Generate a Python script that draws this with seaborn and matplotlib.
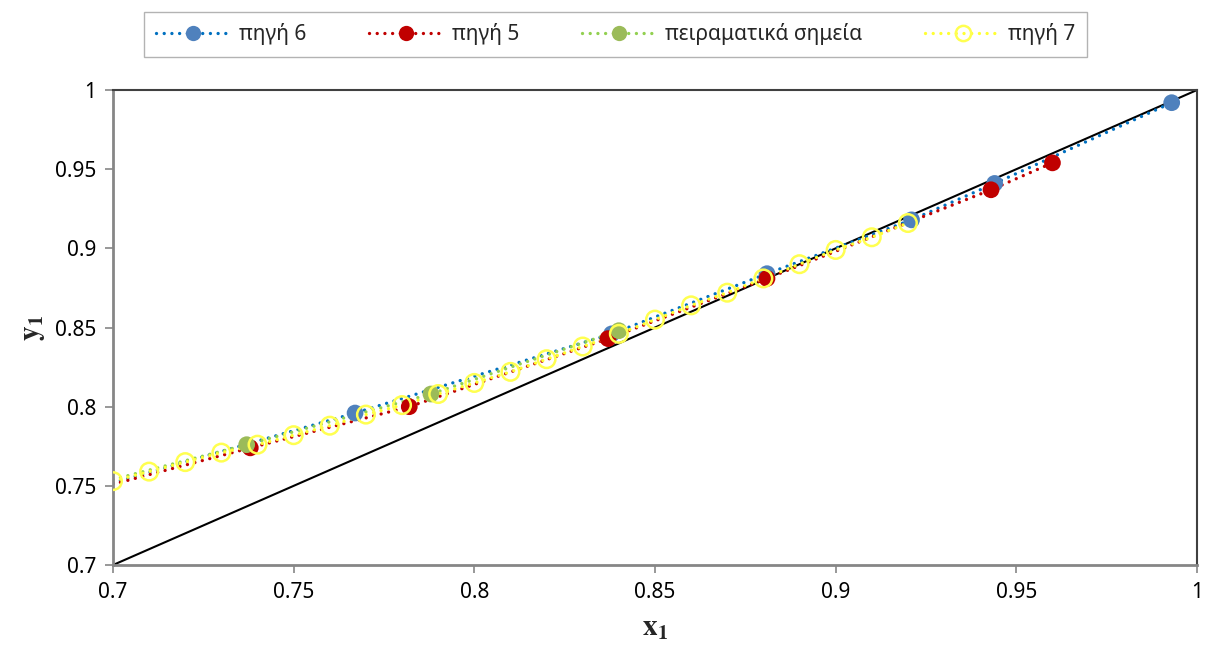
#!/usr/bin/env python3
# x1-y1 equilibrium comparison: three sources vs experimental points
import numpy as np
import pandas as pd
import seaborn as sns
import matplotlib.pyplot as plt
from matplotlib.lines import Line2D
from matplotlib.ticker import FormatStrFormatter

# data
src6_x = [0.767, 0.838, 0.881, 0.921, 0.944, 0.993]
src6_y = [0.796, 0.846, 0.884, 0.918, 0.941, 0.992]
src5_x = [0.738, 0.782, 0.837, 0.881, 0.943, 0.960]
src5_y = [0.774, 0.800, 0.843, 0.881, 0.937, 0.954]
exp_x = [0.737, 0.788, 0.840]
exp_y = [0.776, 0.808, 0.848]
src7_x = [0.70, 0.71, 0.72, 0.73, 0.74, 0.75, 0.76, 0.77, 0.78, 0.79, 0.80, 0.81,
          0.82, 0.83, 0.84, 0.85, 0.86, 0.87, 0.88, 0.89, 0.90, 0.91, 0.92]
src7_y = [0.753, 0.759, 0.765, 0.771, 0.776, 0.782, 0.788, 0.795, 0.801, 0.808, 0.815, 0.822,
          0.830, 0.838, 0.846, 0.855, 0.864, 0.872, 0.881, 0.890, 0.899, 0.907, 0.916]
# where the dotted lines start at the left edge (no marker there)
line_start_x = 0.70
src6_start_y = 0.752
src5_start_y = 0.751
exp_start_y = 0.754
diag = [0.7, 1.0]

labels = ['πηγή 6', 'πηγή 5', 'πειραματικά σημεία', 'πηγή 7']

sns.set_theme(style='white')
plt.rcParams['font.family'] = ['Noto Sans', 'DejaVu Sans']
plt.rcParams['mathtext.fontset'] = 'stix'

fig = plt.figure(figsize=(12.07, 6.61), dpi=100)
ax = fig.add_axes([0.0936, 0.1452, 0.8981, 0.7186])

dot = (0, (0.01, 2.3))
lw = 2.4

# y = x line
sns.lineplot(x=diag, y=diag, color='black', lw=1.5, ax=ax)

series = [
    ([line_start_x] + src6_x, [src6_start_y] + src6_y, src6_x, src6_y, '#0070C0', '#4F81BD'),
    ([line_start_x] + src5_x, [src5_start_y] + src5_y, src5_x, src5_y, '#C00000', '#C00000'),
    ([line_start_x] + exp_x, [exp_start_y] + exp_y, exp_x, exp_y, '#92D050', '#9BBB59'),
]
for lx, ly, mx, my, lc, mc in series:
    sns.lineplot(x=lx, y=ly, sort=False, estimator=None, color=lc, lw=lw,
                 linestyle=dot, dash_capstyle='round', ax=ax)
    sns.scatterplot(x=mx, y=my, color=mc, s=145, edgecolor='none', ax=ax, zorder=4)

sns.lineplot(x=src7_x, y=src7_y, sort=False, estimator=None, color='#FFFF33', lw=lw,
             linestyle=dot, dash_capstyle='round', ax=ax)
sns.scatterplot(x=src7_x, y=src7_y, facecolor='none', edgecolor='#FFFF50', linewidth=1.8,
                s=160, ax=ax, zorder=5)

ax.set_xlim(0.7, 1.0)
ax.set_ylim(0.7, 1.0)
ax.set_xticks(np.arange(0.7, 1.001, 0.05))
ax.set_yticks(np.arange(0.7, 1.001, 0.05))
ax.xaxis.set_major_formatter(FormatStrFormatter('%g'))
ax.yaxis.set_major_formatter(FormatStrFormatter('%g'))
ax.tick_params(axis='both', labelsize=15, labelcolor='black', direction='out', length=6,
               width=1.2, color='#868686', pad=6, bottom=True, left=True)
for side in ['left', 'bottom']:
    ax.spines[side].set_color('#868686')
    ax.spines[side].set_linewidth(2)
for side in ['top', 'right']:
    ax.spines[side].set_color('#404040')
    ax.spines[side].set_linewidth(1.5)

ax.set_xlabel(r'$\mathbf{x_1}$', fontsize=21, labelpad=8)
ax.set_ylabel(r'$\mathbf{y_1}$', fontsize=21, labelpad=6)

handles = [
    Line2D([], [], color='#0070C0', lw=lw, linestyle=dot, dash_capstyle='round',
           marker='o', markersize=11, markerfacecolor='#4F81BD', markeredgecolor='none'),
    Line2D([], [], color='#C00000', lw=lw, linestyle=dot, dash_capstyle='round',
           marker='o', markersize=11, markerfacecolor='#C00000', markeredgecolor='none'),
    Line2D([], [], color='#92D050', lw=lw, linestyle=dot, dash_capstyle='round',
           marker='o', markersize=11, markerfacecolor='#9BBB59', markeredgecolor='none'),
    Line2D([], [], color='#FFFF33', lw=lw, linestyle=dot, dash_capstyle='round',
           marker='o', markersize=11, markerfacecolor='none', markeredgecolor='#FFFF50',
           markeredgewidth=1.8),
]
fig.legend(handles, labels, loc='center', bbox_to_anchor=(0.51, 0.948), ncol=4,
           fontsize=15, frameon=True, fancybox=False, edgecolor='#A0A0A0',
           handlelength=3.6, columnspacing=3.0, borderpad=0.55, handletextpad=0.4)

fig.savefig('out.png', dpi=100)
